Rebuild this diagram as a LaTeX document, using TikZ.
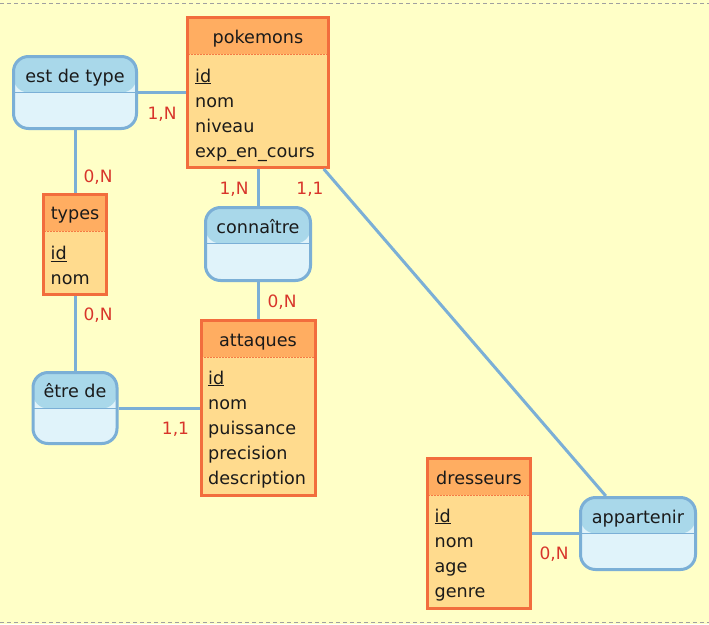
\documentclass[tikz,border=0pt]{standalone}
\usepackage{fontspec}
\setmainfont{DejaVu Sans}
\definecolor{bgc}{HTML}{FFFFC7}
\definecolor{entHead}{HTML}{FFAD61}
\definecolor{entBody}{HTML}{FFDB8E}
\definecolor{entBorder}{HTML}{F26D3D}
\definecolor{relHead}{HTML}{A9D8EA}
\definecolor{relBody}{HTML}{E0F3FA}
\definecolor{relBorder}{HTML}{7BAFD6}
\definecolor{cardc}{HTML}{D8352B}
\definecolor{txtc}{HTML}{1A1A1A}
\definecolor{framec}{HTML}{A0A0A0}
\newcommand{\mainsz}{\fontsize{17.6}{20}\selectfont}
\newcommand{\cardsz}{\fontsize{17}{20}\selectfont}
\begin{document}
\begin{tikzpicture}[x=1pt,y=-1pt,
  entity/.style={draw=entBorder, line width=3pt, fill=entBody, rectangle, inner sep=0pt,
    path picture={
      \fill[entHead] (path picture bounding box.north west) rectangle ([yshift=-36.5pt]path picture bounding box.north east);
      \draw[entBorder!80!entHead, line width=1pt, dash pattern=on 2pt off 1pt] ([yshift=-36.5pt]path picture bounding box.north west) -- ([yshift=-36.5pt]path picture bounding box.north east);
    }},
  relation/.style={draw=relBorder, line width=3pt, fill=relBody, rectangle, rounded corners=15pt, inner sep=0pt,
    path picture={
      \fill[relHead] (path picture bounding box.north west) rectangle ([yshift=-36pt]path picture bounding box.north east);
      \draw[relBorder, line width=1.5pt] ([yshift=-36pt]path picture bounding box.north west) -- ([yshift=-36pt]path picture bounding box.north east);
    }},
  title/.style={anchor=base, inner sep=0pt, font=\mainsz, text=txtc},
  attr/.style={anchor=base west, inner sep=0pt, font=\mainsz, text=txtc},
  card/.style={anchor=base, inner sep=0pt, font=\cardsz, text=cardc},
  conn/.style={draw=relBorder, line width=3pt},
]
\useasboundingbox (0,0) rectangle (709,624);
\fill[bgc] (0,0) rectangle (709,624);
\draw[framec, line width=1pt, dash pattern=on 4pt off 3pt] (0,3.5) -- (709,3.5);
\draw[framec, line width=1pt, dash pattern=on 4pt off 3pt] (0,622.5) -- (709,622.5);

% entities
\node[entity, minimum width=141pt, minimum height=150pt] (pokemons) at (258,92.5) {};
\node[entity, minimum width=63pt, minimum height=100pt] (types) at (75,244.5) {};
\node[entity, minimum width=114pt, minimum height=175pt] (attaques) at (258,408) {};
\node[entity, minimum width=103pt, minimum height=150pt] (dresseurs) at (479,533.5) {};

% relations
\node[relation, minimum width=123pt, minimum height=72pt] (esttype) at (75,92.5) {};
\node[relation, minimum width=105pt, minimum height=73pt] (connaitre) at (258,244) {};
\node[relation, minimum width=84pt, minimum height=71pt] (etrede) at (75,408) {};
\node[relation, minimum width=115pt, minimum height=72pt] (appartenir) at (638,533.5) {};

% connectors
\draw[conn] (esttype.east) -- (esttype.east -| pokemons.west);
\draw[conn] (esttype.south) -- (types.north);
\draw[conn] (types.south) -- (etrede.north);
\draw[conn] (etrede.east) -- (etrede.east -| attaques.west);
\draw[conn] (pokemons.south) -- (connaitre.north);
\draw[conn] (connaitre.south) -- (attaques.north);
\draw[conn] (pokemons) -- (appartenir);
\draw[conn] (dresseurs.east) -- (appartenir.west);

% titles
\node[title] (tpk) at (258,43) {pokemons};
\node[title] (tty) at (75,219.5) {types};
\node[title] (tat) at (258,346) {attaques};
\node[title] (tdr) at (479,484) {dresseurs};
\node[title] (tet) at (75,82) {est de type};
\node[title] (tco) at (258,233) {connaître};
\node[title] (ted) at (75,397) {être de};
\node[title] (tap) at (638,523) {appartenir};

% attributes
\node[attr] (pk1) at (195,82) {\underline{id}};
\node[attr] (pk2) at (195,107) {nom};
\node[attr] (pk3) at (195,132) {niveau};
\node[attr] (pk4) at (195,157) {exp\_en\_cours};

\node[attr] (ty1) at (50.5,259.5) {\underline{id}};
\node[attr] (ty2) at (50.5,284) {nom};

\node[attr] (at1) at (208,384) {\underline{id}};
\node[attr] (at2) at (208,409) {nom};
\node[attr] (at3) at (208,434) {puissance};
\node[attr] (at4) at (208,459) {precision};
\node[attr] (at5) at (208,484.5) {description};

\node[attr] (dr1) at (434.5,522) {\underline{id}};
\node[attr] (dr2) at (434.5,547) {nom};
\node[attr] (dr3) at (434.5,572) {age};
\node[attr] (dr4) at (434.5,597) {genre};

% cardinalities
\node[card] (c1) at (162,119.5) {1,N};
\node[card] (c2) at (98,182.5) {0,N};
\node[card] (c3) at (234,194.5) {1,N};
\node[card] (c4) at (310,194.5) {1,1};
\node[card] (c5) at (98,320.5) {0,N};
\node[card] (c6) at (282,307.5) {0,N};
\node[card] (c7) at (175.5,434) {1,1};
\node[card] (c8) at (554,559) {0,N};
\end{tikzpicture}
\end{document}
